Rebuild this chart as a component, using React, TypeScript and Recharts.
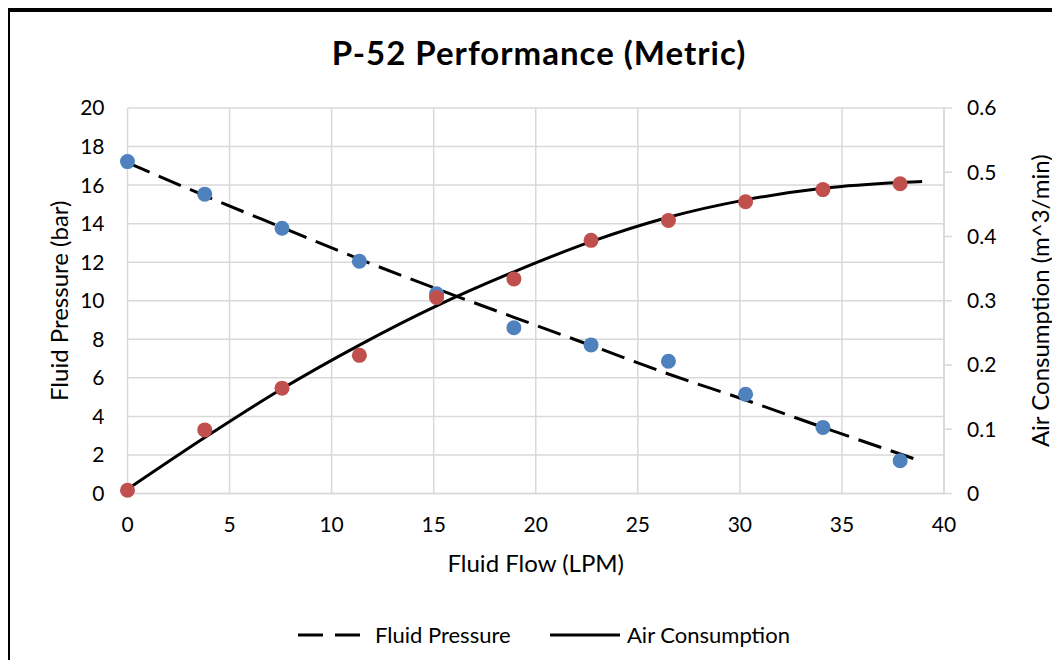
import React from 'react';
import {
  ComposedChart,
  Scatter,
  Line,
  XAxis,
  YAxis,
  CartesianGrid,
  Legend
} from 'recharts';

// measured points (flow in LPM)
const flow = [0, 3.785, 7.57, 11.36, 15.14, 18.93, 22.71, 26.5, 30.28, 34.07, 37.85];
const pressure = [17.22, 15.53, 13.76, 12.05, 10.36, 8.6, 7.71, 6.86, 5.15, 3.43, 1.7];
const airUse = [0.005, 0.099, 0.164, 0.215, 0.305, 0.334, 0.394, 0.425, 0.454, 0.473, 0.482];

// trend lines
const trendFlow = [0, 3.785, 7.57, 11.36, 15.14, 18.93, 22.71, 26.5, 30.28, 34.07, 37.85, 38.93];
const pressureTrend = [17.17, 15.45, 13.8, 12.16, 10.62, 9.14, 7.68, 6.2, 4.85, 3.43, 2.05, 1.66];
const airTrend = [0.0065, 0.087, 0.163, 0.231, 0.292, 0.345, 0.392, 0.43, 0.457, 0.475, 0.484, 0.4855];

const xTicks = [0, 5, 10, 15, 20, 25, 30, 35, 40];
const pressureTicks = [0, 2, 4, 6, 8, 10, 12, 14, 16, 18, 20];
const airTicks = [0, 0.1, 0.2, 0.3, 0.4, 0.5, 0.6];

const legendNames = ['Fluid Pressure', 'Air Consumption'];

const FONT = 'Lato, "Open Sans", sans-serif';
const GRID = '#d9d9d9';
const BLUE = '#4f81bd';
const RED = '#c0504d';

const pressurePoints = flow.map((x, i) => ({ x, y: pressure[i] }));
const airPoints = flow.map((x, i) => ({ x, y: airUse[i] }));
const pressureLine = trendFlow.map((x, i) => ({ x, y: pressureTrend[i] }));
const airLine = trendFlow.map((x, i) => ({ x, y: airTrend[i] }));

const dot = (color: string) => (props: any) => (
  <circle cx={props.cx} cy={props.cy} r={7.5} fill={color} />
);

const tickStyle = { fontSize: 21, fill: '#000', fontFamily: FONT };
const titleStyle = { textAnchor: 'middle', fontSize: 24, fill: '#000', fontFamily: FONT } as any;

// legend drawn at fixed spots under the plot
const LegendBox = () => (
  <div style={{ position: 'relative', width: 1060, height: 30, fontSize: 22, fontFamily: FONT, color: '#000' }}>
    <svg width={62} height={10} style={{ position: 'absolute', left: 298, top: 10 }}>
      <line x1={0} y1={5} x2={62} y2={5} stroke="#000" strokeWidth={3} strokeDasharray="25 12" />
    </svg>
    <span style={{ position: 'absolute', left: 375, top: 0, lineHeight: '30px' }}>{legendNames[0]}</span>
    <svg width={70} height={10} style={{ position: 'absolute', left: 550, top: 10 }}>
      <line x1={0} y1={5} x2={70} y2={5} stroke="#000" strokeWidth={3} />
    </svg>
    <span style={{ position: 'absolute', left: 627, top: 0, lineHeight: '30px' }}>{legendNames[1]}</span>
  </div>
);

export default function App() {
  return (
    <div
      style={{
        position: 'relative',
        width: 1060,
        height: 668,
        margin: -8,
        overflow: 'hidden',
        background: '#fff',
        fontFamily: FONT
      }}
    >
      <div
        style={{
          position: 'absolute',
          left: 5,
          top: 7,
          width: 1200,
          height: 800,
          border: '5px solid #000',
          boxSizing: 'border-box'
        }}
      />
      <div
        style={{
          position: 'absolute',
          left: 0,
          top: 36,
          width: 1078,
          textAlign: 'center',
          fontSize: 33,
          lineHeight: '33px',
          letterSpacing: 1,
          fontWeight: 700,
          color: '#000'
        }}
      >
        P-52 Performance (Metric)
      </div>
      <div style={{ position: 'absolute', left: 0, top: 0 }}>
        <ComposedChart
          width={1060}
          height={668}
          margin={{ top: 108, right: 0, bottom: 90, left: 47.5 }}
        >
          <CartesianGrid yAxisId="left" stroke={GRID} strokeWidth={1.5} />
          <XAxis
            dataKey="x"
            type="number"
            domain={[0, 40]}
            ticks={xTicks}
            interval={0}
            height={84.5}
            axisLine={{ stroke: GRID, strokeWidth: 1.5 }}
            tickLine={false}
            tickSize={6}
            tickMargin={17.5}
            tick={tickStyle}
            label={{
              value: 'Fluid Flow (LPM)',
              position: 'insideBottom',
              offset: 6,
              style: titleStyle
            }}
          />
          <YAxis
            yAxisId="left"
            dataKey="y"
            type="number"
            domain={[0, 20]}
            ticks={pressureTicks}
            interval={0}
            width={80}
            axisLine={false}
            tickLine={false}
            tickSize={6}
            tickMargin={17}
            tick={tickStyle}
            label={{
              value: 'Fluid Pressure (bar)',
              angle: -90,
              position: 'insideLeft',
              offset: 12,
              style: titleStyle
            }}
          />
          <YAxis
            yAxisId="right"
            orientation="right"
            dataKey="y"
            type="number"
            domain={[0, 0.6]}
            ticks={airTicks}
            interval={0}
            width={116}
            axisLine={{ stroke: GRID, strokeWidth: 1.5 }}
            tickLine={{ stroke: GRID, strokeWidth: 1.5 }}
            tickSize={8}
            tickMargin={15}
            tick={tickStyle}
            tickFormatter={(v: number) => String(v)}
            label={{
              value: 'Air Consumption (m^3/min)',
              angle: -90,
              position: 'insideRight',
              offset: 20,
              style: titleStyle
            }}
          />
          <Scatter
            name="Fluid Pressure points"
            yAxisId="left"
            data={pressurePoints}
            dataKey="y"
            fill={BLUE}
            shape={dot(BLUE)}
            legendType="none"
            isAnimationActive={false}
          />
          <Scatter
            name="Air Consumption points"
            yAxisId="right"
            data={airPoints}
            dataKey="y"
            fill={RED}
            shape={dot(RED)}
            legendType="none"
            isAnimationActive={false}
          />
          <Line
            name="Fluid Pressure"
            yAxisId="left"
            data={pressureLine}
            dataKey="y"
            type="monotone"
            stroke="#000"
            strokeWidth={3}
            strokeDasharray="24 10"
            dot={false}
            activeDot={false}
            isAnimationActive={false}
          />
          <Line
            name="Air Consumption"
            yAxisId="right"
            data={airLine}
            dataKey="y"
            type="monotone"
            stroke="#000"
            strokeWidth={3}
            dot={false}
            activeDot={false}
            isAnimationActive={false}
          />
          <Legend
            layout="horizontal"
            verticalAlign="middle"
            align="center"
            wrapperStyle={{ position: 'absolute', top: 620, left: 0, width: 1060, height: 30 }}
            content={() => <LegendBox />}
          />
        </ComposedChart>
      </div>
    </div>
  );
}
